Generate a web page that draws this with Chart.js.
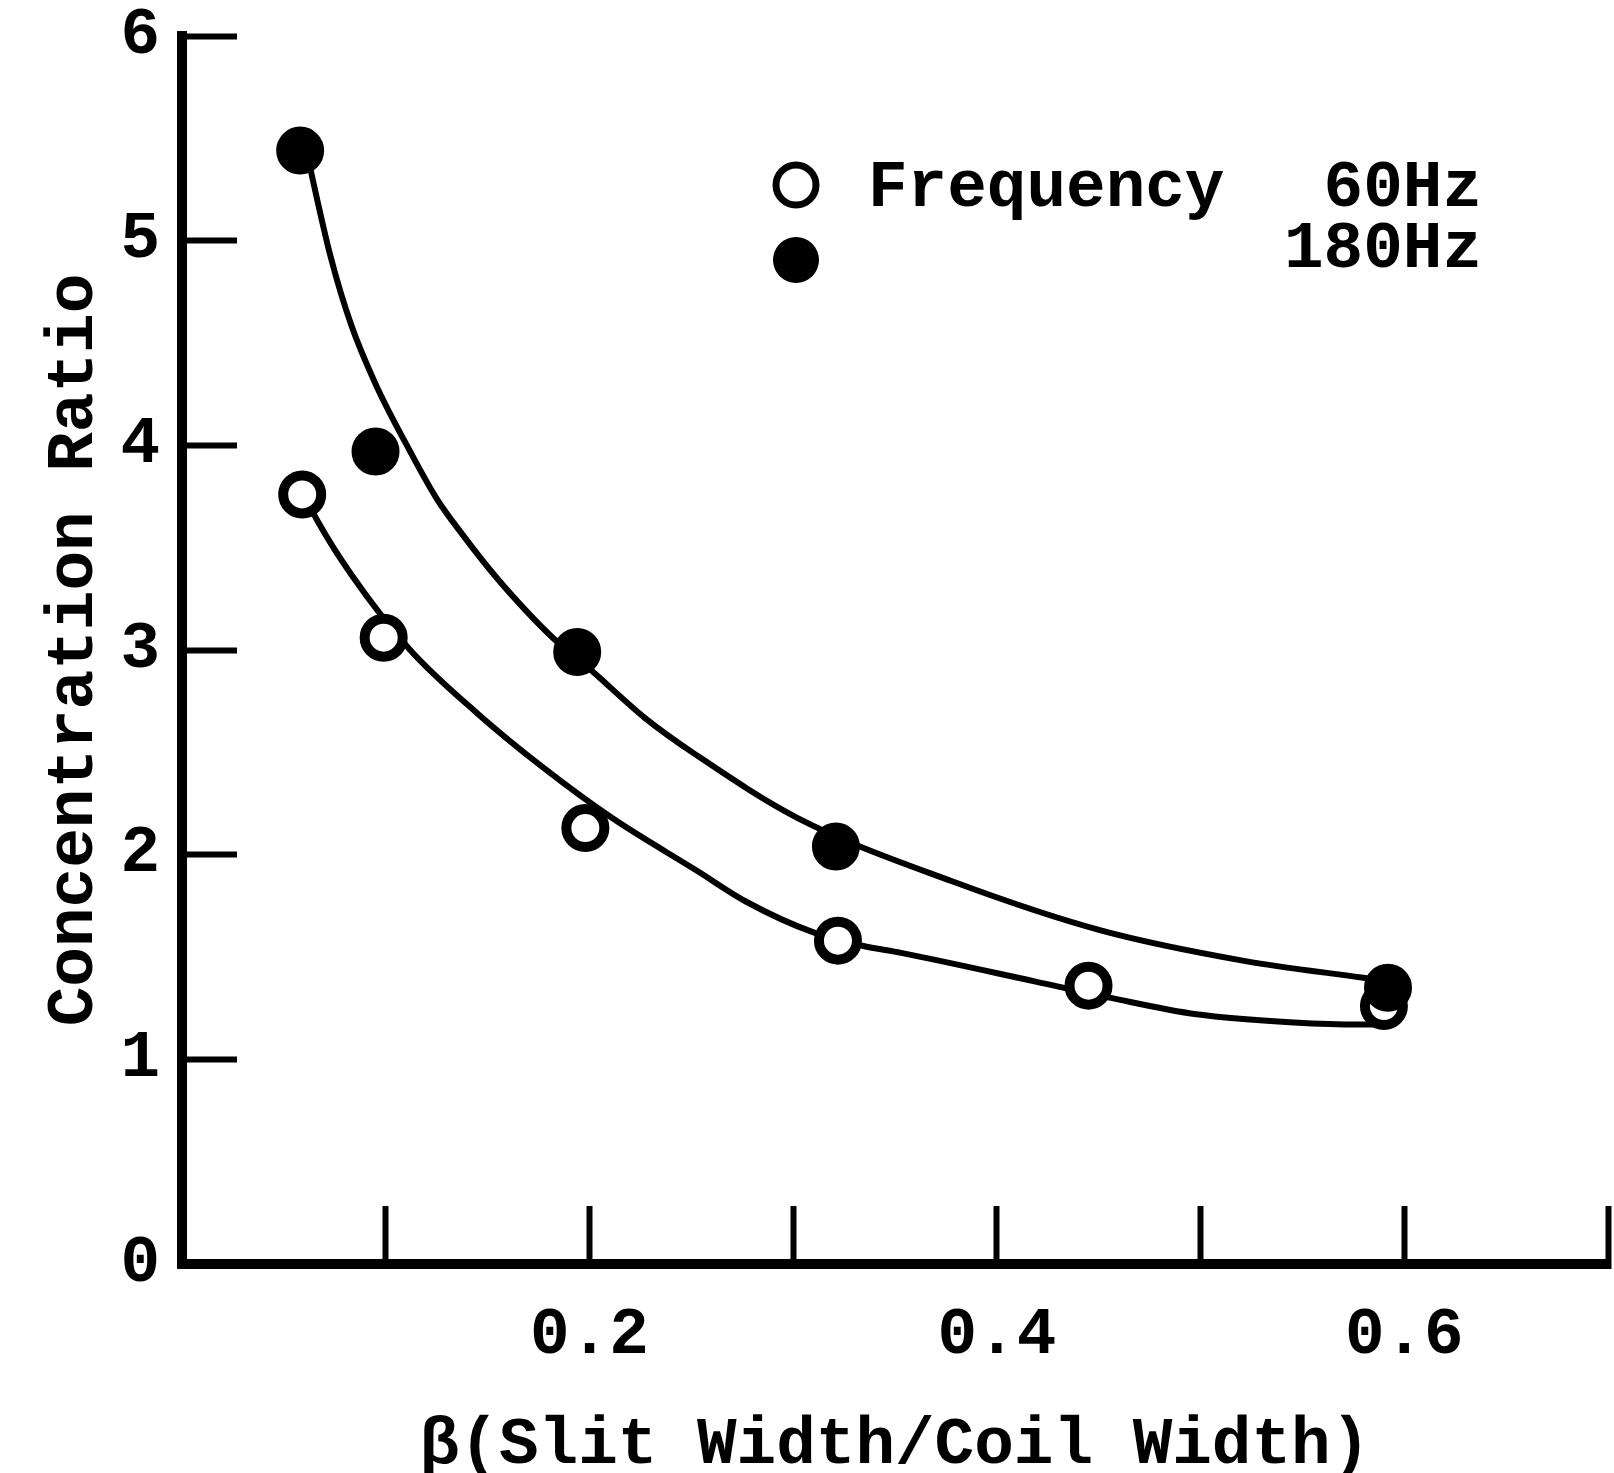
<!DOCTYPE html>
<html>
<head>
<meta charset="utf-8">
<title>Concentration Ratio vs Slit Width</title>
<script src="https://cdn.jsdelivr.net/npm/chart.js@4.4.1/dist/chart.umd.min.js"></script>
<style>
  html, body { margin: 0; padding: 0; background: #fff; }
  #chart { display: block; }
</style>
</head>
<body>
<canvas id="chart" width="1614" height="1473"></canvas>
<script>
var beta180 = [0.058, 0.095, 0.194, 0.321, 0.592];
var ratio180 = [5.44, 3.97, 2.99, 2.04, 1.35];
var beta60 = [0.059, 0.099, 0.198, 0.322, 0.445, 0.590];
var ratio60 = [3.76, 3.06, 2.13, 1.58, 1.36, 1.26];

// hand drawn fitted curves
var curveBeta180 = [0.061, 0.073, 0.083, 0.095, 0.112, 0.125, 0.138, 0.153, 0.170, 0.182, 0.201, 0.227, 0.252, 0.302, 0.378, 0.451, 0.522, 0.579, 0.590];
var curveRatio180 = [5.44, 4.92, 4.59, 4.30, 3.97, 3.74, 3.56, 3.37, 3.18, 3.06, 2.90, 2.67, 2.49, 2.18, 1.87, 1.63, 1.48, 1.40, 1.385];
var curveBeta60 = [0.062, 0.066, 0.083, 0.112, 0.145, 0.178, 0.211, 0.253, 0.277, 0.310, 0.334, 0.353, 0.419, 0.456, 0.498, 0.546, 0.579, 0.589];
var curveRatio60 = [3.72, 3.64, 3.37, 3.00, 2.69, 2.42, 2.18, 1.92, 1.77, 1.62, 1.555, 1.52, 1.38, 1.30, 1.22, 1.18, 1.17, 1.17];

// only these x ticks carry a label
var xTickLabels = [0.2, 0.4, 0.6];

var FONT = "'Liberation Mono', 'Courier New', monospace";

function zip(xs, ys) {
  return xs.map(function (x, i) { return { x: x, y: ys[i] }; });
}

// legend drawn like the typed key in the original
var freqLegend = {
  id: 'freqLegend',
  afterDraw: function (chart) {
    var ctx = chart.ctx;
    var a = chart.chartArea;
    var mx = a.left + 614;
    var row1 = a.top + 153;
    var row2 = a.top + 214;
    var right = a.left + 1300;
    ctx.save();
    ctx.strokeStyle = '#000';
    ctx.fillStyle = '#000';
    ctx.lineWidth = 7;
    ctx.beginPath();
    ctx.arc(mx, a.top + 149, 20, 0, Math.PI * 2);
    ctx.stroke();
    ctx.beginPath();
    ctx.arc(mx, row2 + 10, 23, 0, Math.PI * 2);
    ctx.fill();
    ctx.font = 'bold 66px ' + FONT;
    ctx.textBaseline = 'middle';
    ctx.textAlign = 'left';
    ctx.fillText('Frequency', mx + 72, row1);
    ctx.textAlign = 'right';
    ctx.fillText('60Hz', right, row1);
    ctx.fillText('180Hz', right, row2);
    ctx.restore();
  }
};

new Chart(document.getElementById('chart').getContext('2d'), {
  type: 'scatter',
  data: {
    datasets: [
      {
        label: '180Hz',
        data: zip(beta180, ratio180),
        pointRadius: 21,
        pointBorderWidth: 6,
        pointBackgroundColor: '#000',
        pointBorderColor: '#000',
        showLine: false
      },
      {
        label: '60Hz',
        data: zip(beta60, ratio60),
        pointRadius: 19,
        pointBorderWidth: 10,
        pointBackgroundColor: '#fff',
        pointBorderColor: '#000',
        showLine: false
      },
      {
        label: '180Hz curve',
        data: zip(curveBeta180, curveRatio180),
        showLine: true,
        pointRadius: 0,
        borderColor: '#000',
        borderWidth: 6,
        cubicInterpolationMode: 'monotone'
      },
      {
        label: '60Hz curve',
        data: zip(curveBeta60, curveRatio60),
        showLine: true,
        pointRadius: 0,
        borderColor: '#000',
        borderWidth: 6,
        cubicInterpolationMode: 'monotone'
      }
    ]
  },
  options: {
    responsive: false,
    animation: false,
    layout: {
      autoPadding: false,
      padding: { top: 36, right: 6, bottom: 0, left: 0 }
    },
    plugins: {
      legend: { display: false },
      tooltip: { enabled: false }
    },
    scales: {
      x: {
        type: 'linear',
        min: 0,
        max: 0.7,
        afterFit: function (scale) {
          scale.height = 209;
          scale.paddingLeft = 0;
          scale.paddingRight = 0;
        },
        border: { display: true, color: '#000', width: 10 },
        grid: {
          drawOnChartArea: false,
          drawTicks: true,
          tickLength: -58,
          tickWidth: 6,
          tickColor: '#000'
        },
        ticks: {
          stepSize: 0.1,
          autoSkip: false,
          maxRotation: 0,
          padding: 97,
          color: '#000',
          font: { family: FONT, size: 66, weight: 'bold', lineHeight: 1 },
          callback: function (value) {
            var v = Math.round(value * 10) / 10;
            return xTickLabels.indexOf(v) >= 0 ? v.toFixed(1) : '';
          }
        },
        title: {
          display: true,
          text: 'β(Slit Width/Coil Width)',
          color: '#000',
          font: { family: FONT, size: 66, weight: 'bold', lineHeight: 1 },
          padding: { top: 0, bottom: -6 }
        }
      },
      y: {
        type: 'linear',
        min: 0,
        max: 6,
        afterFit: function (scale) {
          scale.width = 182;
          scale.paddingTop = 0;
          scale.paddingBottom = 0;
        },
        border: { display: true, color: '#000', width: 10 },
        grid: {
          drawOnChartArea: false,
          drawTicks: true,
          tickLength: -55,
          tickWidth: 6,
          tickColor: '#000'
        },
        ticks: {
          stepSize: 1,
          padding: 77,
          color: '#000',
          font: { family: FONT, size: 66, weight: 'bold', lineHeight: 1 }
        },
        title: {
          display: true,
          text: 'Concentration Ratio',
          color: '#000',
          font: { family: FONT, size: 66, weight: 'bold', lineHeight: 1 },
          padding: { top: 42, bottom: 0 }
        }
      }
    }
  },
  plugins: [freqLegend]
});
</script>
</body>
</html>
